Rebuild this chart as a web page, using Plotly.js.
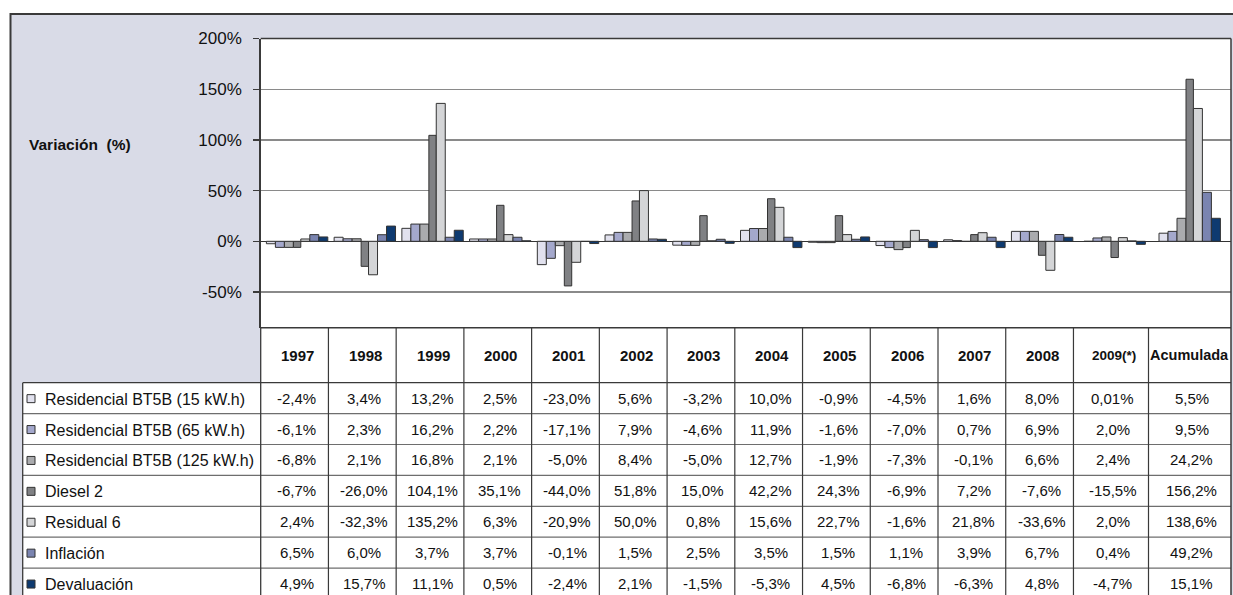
<!DOCTYPE html>
<html>
<head>
<meta charset="utf-8">
<script src="https://cdn.plot.ly/plotly-3.0.1.min.js"></script>
<style>html,body{margin:0;padding:0;background:#fff;}#chart{width:1233px;height:595px;}</style>
</head>
<body>
<div id="chart"></div>
<script>
// ---------- DATA ----------
const categories = ["1997","1998","1999","2000","2001","2002","2003","2004","2005","2006","2007","2008","2009(*)","Acumulada"];
const seriesNames = ["Residencial BT5B (15 kW.h)","Residencial BT5B (65 kW.h)","Residencial BT5B (125 kW.h)","Diesel 2","Residual 6","Inflación","Devaluación"];

// bar heights (%)
const barRes15  = [-2.4, 4.0, 12.8, 2.3, -23.0, 6.3, -3.8, 10.8, -0.9, -4.2, 1.5, 9.8, 0.0, 8.0];
const barRes65  = [-6.0, 2.5, 17.0, 2.3, -16.8, 8.8, -4.0, 12.6, -1.3, -6.2, 0.7, 9.8, 3.3, 9.8];
const barRes125 = [-6.0, 2.5, 17.0, 2.3, -4.3, 8.8, -4.0, 12.6, -1.3, -8.2, -0.1, 9.8, 4.3, 22.7];
const barDiesel = [-6.0, -24.7, 104.5, 35.5, -44.0, 39.8, 25.3, 42.0, 25.3, -6.2, 6.6, -13.8, -16.0, 159.8];
const barResid  = [2.3, -33.0, 136.0, 6.6, -20.7, 50.0, 0.5, 33.5, 6.6, 10.8, 8.5, -28.6, 3.6, 131.0];
const barInfl   = [6.6, 6.5, 4.0, 4.0, -0.1, 2.3, 2.0, 4.0, 2.0, 1.6, 4.0, 6.7, 0.4, 48.3];
const barDeval  = [4.3, 15.0, 10.9, 0.5, -2.2, 2.0, -2.0, -6.2, 4.3, -6.2, -6.2, 4.0, -3.0, 22.7];

// data table texts
const tblRes15  = ["-2,4%","3,4%","13,2%","2,5%","-23,0%","5,6%","-3,2%","10,0%","-0,9%","-4,5%","1,6%","8,0%","0,01%","5,5%"];
const tblRes65  = ["-6,1%","2,3%","16,2%","2,2%","-17,1%","7,9%","-4,6%","11,9%","-1,6%","-7,0%","0,7%","6,9%","2,0%","9,5%"];
const tblRes125 = ["-6,8%","2,1%","16,8%","2,1%","-5,0%","8,4%","-5,0%","12,7%","-1,9%","-7,3%","-0,1%","6,6%","2,4%","24,2%"];
const tblDiesel = ["-6,7%","-26,0%","104,1%","35,1%","-44,0%","51,8%","15,0%","42,2%","24,3%","-6,9%","7,2%","-7,6%","-15,5%","156,2%"];
const tblResid  = ["2,4%","-32,3%","135,2%","6,3%","-20,9%","50,0%","0,8%","15,6%","22,7%","-1,6%","21,8%","-33,6%","2,0%","138,6%"];
const tblInfl   = ["6,5%","6,0%","3,7%","3,7%","-0,1%","1,5%","2,5%","3,5%","1,5%","1,1%","3,9%","6,7%","0,4%","49,2%"];
const tblDeval  = ["4,9%","15,7%","11,1%","0,5%","-2,4%","2,1%","-1,5%","-5,3%","4,5%","-6,8%","-6,3%","4,8%","-4,7%","15,1%"];

const yTickVals = [-50, 0, 50, 100, 150, 200];
const yAxisLabel = "Variación  (%)";

// ---------- STYLE / LAYOUT ----------
const W = 1233, H = 595;
const px = x => x / W;
const py = y => 1 - y / H;
const colors = ["#E1E1EE", "#A4A8CC", "#AAABAE", "#808184", "#D4D5D7", "#7A84B0", "#0E3A70"];
const barW   = [9, 9, 9, 7.4, 9, 9, 9];
const lav = "#D9DBE7", dark = "#3a3a3a", gridc = "#8a8a8a", txt = "#111";
const FONT = "Liberation Sans, Arial, sans-serif";
const plotL = 260.7, plotR = 1231, plotT = 38.5, plotB = 327.7;
const tableTop = 382.7, rowH = 30.9, tblLeft = 22.7;
// column edges: twelve equal columns, then two wider ones
const colEdges = [];
for (let k = 0; k <= 12; k++) colEdges.push(plotL + 67.73 * k);
colEdges.push(1148.5, plotR);
const groupStart = categories.map((c, k) => colEdges[k] + (k >= 12 ? 10.5 : 5.7));
const colCenter = categories.map((c, k) => (colEdges[k] + colEdges[k + 1]) / 2);

const barSeries = [barRes15, barRes65, barRes125, barDiesel, barResid, barInfl, barDeval];
const tblSeries = [tblRes15, tblRes65, tblRes125, tblDiesel, tblResid, tblInfl, tblDeval];

const traces = [];
let off = 0;
barSeries.forEach((vals, i) => {
  traces.push({
    type: "bar", name: seriesNames[i],
    x: groupStart, y: vals,
    offset: off, width: barW[i],
    marker: {color: colors[i], line: {color: "#333", width: 1}},
    hoverinfo: "skip"
  });
  off += barW[i];
});

const shapes = [];
const ann = [];
// chart background frame
shapes.push({type: "rect", xref: "paper", yref: "paper", layer: "below",
  x0: px(10.5), x1: px(1250), y0: py(14), y1: py(620),
  fillcolor: lav, line: {color: dark, width: 2}});
// white plot area
shapes.push({type: "rect", xref: "paper", yref: "paper", layer: "below",
  x0: px(plotL), x1: px(plotR), y0: py(plotB), y1: py(plotT),
  fillcolor: "#fff", line: {width: 0}});
// white table cells
shapes.push({type: "rect", xref: "paper", yref: "paper", layer: "below",
  x0: px(plotL), x1: px(plotR), y0: py(tableTop), y1: py(plotB),
  fillcolor: "#fff", line: {width: 0}});
shapes.push({type: "rect", xref: "paper", yref: "paper", layer: "below",
  x0: px(tblLeft), x1: px(plotR), y0: py(620), y1: py(tableTop),
  fillcolor: "#fff", line: {width: 0}});

function hline(y, x0, x1, c, w) {
  shapes.push({type: "line", xref: "paper", yref: "paper", x0: px(x0), x1: px(x1), y0: py(y), y1: py(y), line: {color: c, width: w}});
}
function vline(x, y0, y1, c, w) {
  shapes.push({type: "line", xref: "paper", yref: "paper", x0: px(x), x1: px(x), y0: py(y0), y1: py(y1), line: {color: c, width: w}});
}
// plot border lines
hline(plotT, plotL, plotR, dark, 1.5);
hline(plotB, plotL, plotR, dark, 1.5);
hline(tableTop, tblLeft, plotR, dark, 1.3);
for (let r = 1; r <= 7; r++) hline(tableTop + rowH * r, tblLeft, plotR, "#6e6e6e", 1.2);
vline(tblLeft, tableTop, 620, dark, 1.3);
vline(plotR, plotT, 620, dark, 1.5);
for (let k = 1; k < colEdges.length - 1; k++) vline(colEdges[k], plotB, 620, dark, 1.2);
vline(plotL, plotB, 620, dark, 1.3);

// header texts
categories.forEach((c, k) => {
  let size = 15, dx = 3;
  if (k === 12) { size = 13.5; dx = 3; }
  if (k === 13) { size = 14.5; dx = 0; }
  ann.push({xref: "paper", yref: "paper", x: px(colCenter[k] + dx), y: py((plotB + tableTop) / 2),
    text: "<b>" + c + "</b>", showarrow: false, xanchor: "center", yanchor: "middle",
    font: {family: FONT, size: size, color: txt}});
});
// row labels, markers and values
seriesNames.forEach((n, i) => {
  const yc = tableTop + rowH * (i + 0.5);
  shapes.push({type: "rect", xref: "paper", yref: "paper",
    x0: px(27), x1: px(35), y0: py(yc + 4.5), y1: py(yc - 3.5),
    fillcolor: colors[i], line: {color: "#333", width: 1}});
  ann.push({xref: "paper", yref: "paper", x: px(42.5), y: py(yc + 1), text: n, showarrow: false,
    xanchor: "left", yanchor: "middle",
    font: {family: FONT, size: 16, color: txt}});
  tblSeries[i].forEach((t, k) => {
    ann.push({xref: "paper", yref: "paper", x: px(colCenter[k] + 2), y: py(yc), text: t, showarrow: false,
      xanchor: "center", yanchor: "middle",
      font: {family: FONT, size: 15, color: txt}});
  });
});
// y axis label
ann.push({xref: "paper", yref: "paper", x: px(27), y: py(144), text: "<b>" + yAxisLabel + "</b>",
  showarrow: false, xanchor: "left", yanchor: "middle",
  font: {family: FONT, size: 15.5, color: txt}});

const layout = {
  width: W, height: H,
  margin: {l: 0, r: 0, t: 0, b: 0, pad: 0},
  paper_bgcolor: "#fff", plot_bgcolor: "rgba(0,0,0,0)",
  barmode: "overlay", showlegend: false,
  xaxis: {domain: [px(plotL), px(plotR)], range: [plotL, plotR], visible: false, fixedrange: true},
  yaxis: {domain: [py(plotB), py(plotT)], range: [-85.2, 200],
    tickvals: yTickVals, ticktext: yTickVals.map(v => v + "%"),
    showgrid: true, gridcolor: gridc, gridwidth: 1.3,
    zeroline: true, zerolinecolor: "#333", zerolinewidth: 1.3,
    showline: true, linecolor: dark, linewidth: 1.5,
    ticks: "outside", ticklen: 6, tickcolor: dark, tickwidth: 1.3,
    ticklabelstandoff: 8,
    tickfont: {family: FONT, size: 17, color: txt},
    fixedrange: true},
  shapes: shapes,
  annotations: ann
};
Plotly.newPlot("chart", traces, layout, {staticPlot: true, displayModeBar: false});
</script>
</body>
</html>
